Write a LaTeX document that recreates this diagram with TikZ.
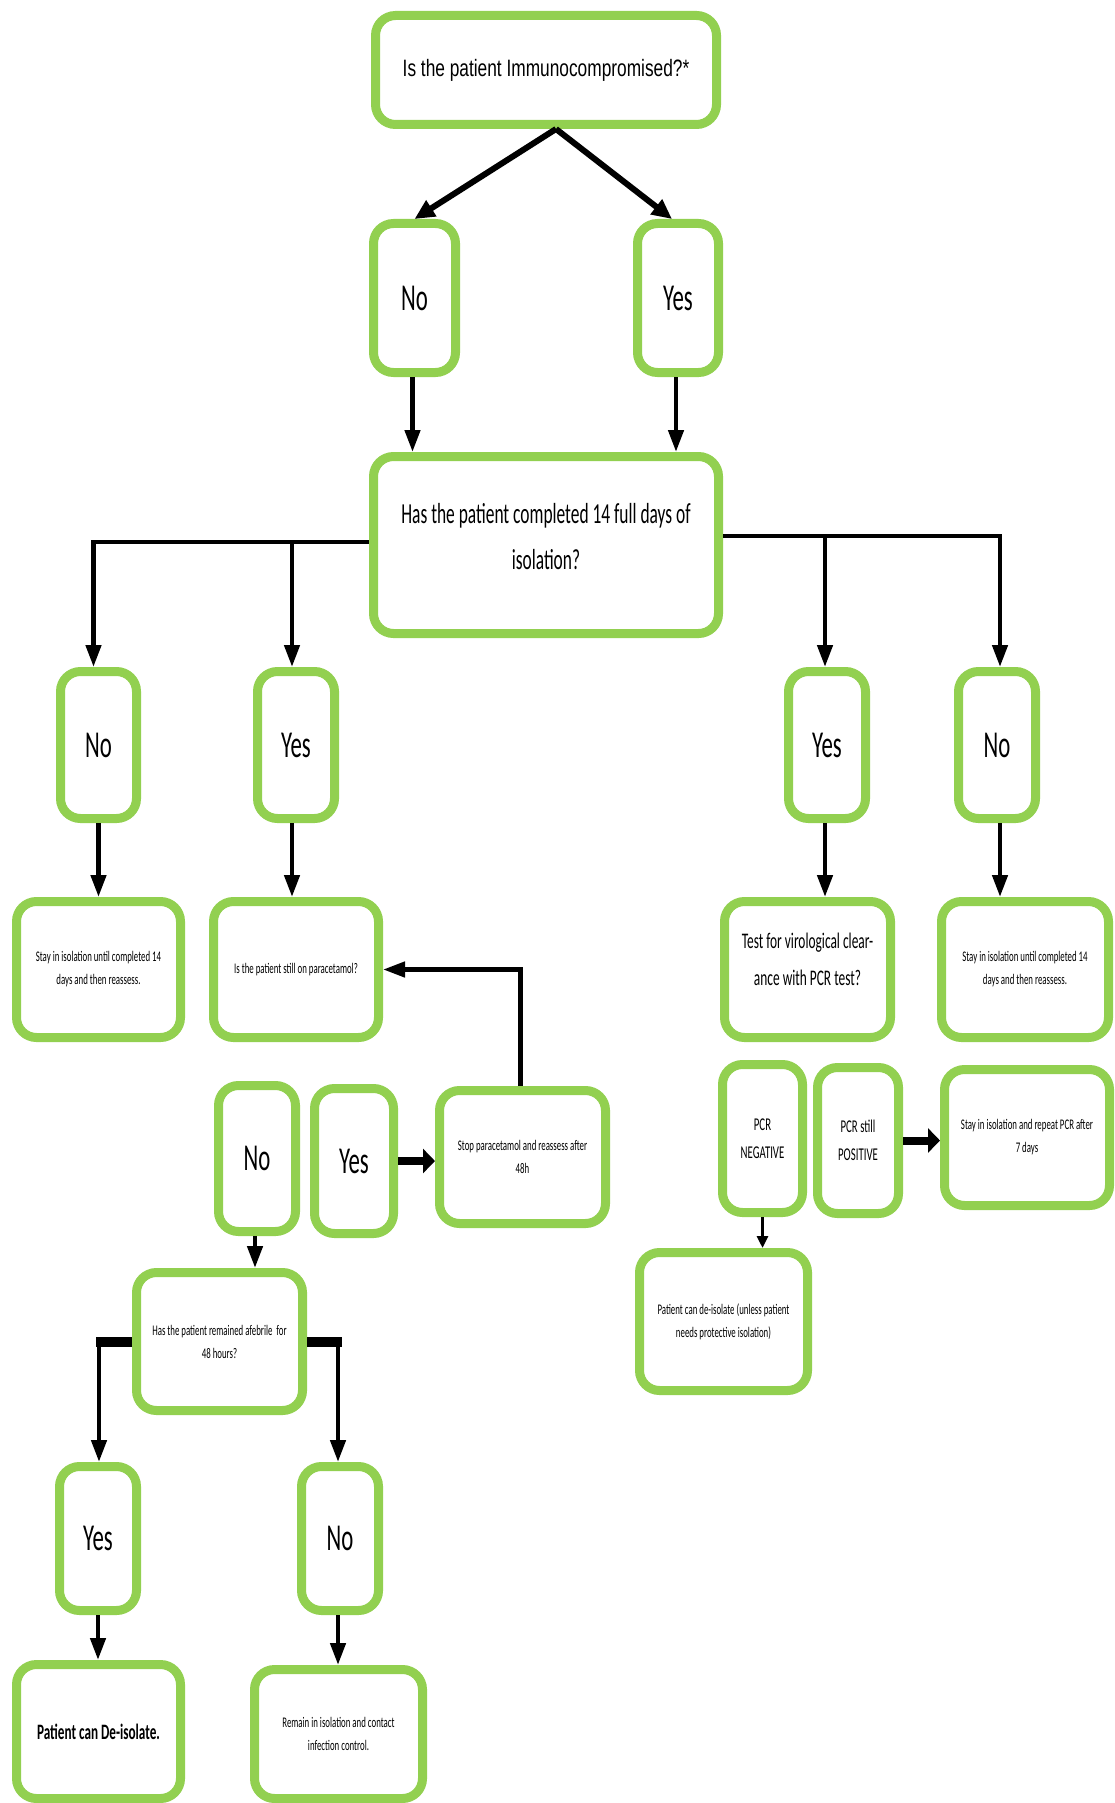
\documentclass[tikz,border=0pt]{standalone}
\usepackage{fontspec}
\usetikzlibrary{arrows.meta}
\newfontfamily\calf[FakeStretch=0.6]{Carlito}
\newfontfamily\arif[FakeStretch=0.73]{Liberation Sans}
\definecolor{boxgreen}{RGB}{146,208,80}
\tikzset{
  box/.style={draw=boxgreen, line width=9pt, rounded corners=20pt, fill=white,
    align=center, inner sep=0pt, outer sep=4.5pt, text=black},
  yn/.style={box, font=\calf\fontsize{38}{40}\selectfont},
  smalltxt/.style={box, font=\calf\fontsize{14.7}{23}\selectfont},
  arr/.style={line width=4.5pt, -{Triangle[length=22pt,width=15pt]}},
  diagarr/.style={line width=6pt, -{Triangle[length=20pt,width=18pt]}},
  thickarr/.style={line width=8pt, -{Triangle[length=12pt,width=24pt]}},
  tinyarr/.style={line width=3pt, -{Triangle[length=12pt,width=11pt]}},
  thickseg/.style={line width=10pt}
}
\begin{document}
\begin{tikzpicture}[x=1pt,y=-1pt]
\useasboundingbox[fill=white] (0,0) rectangle (1115,1803);

% nodes
\node[box, font=\arif\fontsize{23.7}{28}\selectfont, minimum width=341pt, minimum height=109pt] (top) at (546,70) {Is the patient Immunocompromised?*};
\node[yn, minimum width=82pt, minimum height=149pt] (no1) at (414.5,298) {No};
\node[yn, minimum width=81pt, minimum height=149pt] (yes1) at (678,298) {Yes};
\node[box, font=\calf\fontsize{29}{46}\selectfont, minimum width=345pt, minimum height=177pt] (big) at (546,545) {Has the patient completed 14 full days of\\isolation?\\[-28pt]};

\node[yn, minimum width=76pt, minimum height=147pt] (no2) at (98.5,745) {No};
\node[yn, minimum width=77pt, minimum height=147pt] (yes2) at (296,745) {Yes};
\node[yn, minimum width=77pt, minimum height=147pt] (yes3) at (827,745) {Yes};
\node[yn, minimum width=77pt, minimum height=147pt] (no3) at (997,745) {No};

\node[smalltxt, minimum width=164pt, minimum height=136pt] (stay1) at (98.5,969.5) {Stay in isolation until completed 14\\days and then reassess.};
\node[smalltxt, minimum width=165pt, minimum height=136pt] (para) at (296,969.5) {Is the patient still on paracetamol?};
\node[box, font=\calf\fontsize{22.3}{37}\selectfont, minimum width=166pt, minimum height=136pt] (test) at (807.5,969.5) {Test for virological clear-\\ance with PCR test?\\[-16pt]};
\node[smalltxt, minimum width=167pt, minimum height=136pt] (stay2) at (1025,969.5) {Stay in isolation until completed 14\\days and then reassess.};

\node[yn, minimum width=77pt, minimum height=146pt] (no4) at (257,1158.5) {No};
\node[yn, minimum width=79pt, minimum height=145pt] (yes4) at (354,1161) {Yes};
\node[smalltxt, minimum width=166pt, minimum height=133pt] (stop) at (522.5,1157) {Stop paracetamol and reassess after\\48h};

\node[box, font=\calf\fontsize{18}{28}\selectfont, minimum width=80pt, minimum height=148pt] (pcrneg) at (762.5,1138.5) {PCR\\NEGATIVE};
\node[box, font=\calf\fontsize{18}{28}\selectfont, minimum width=81pt, minimum height=146pt] (pcrpos) at (858,1140.5) {PCR still\\POSITIVE};
\node[smalltxt, minimum width=165pt, minimum height=136pt] (stay3) at (1027,1137.5) {Stay in isolation and repeat PCR after\\7 days};

\node[smalltxt, minimum width=168pt, minimum height=138pt] (deiso) at (723.5,1321.5) {Patient can de-isolate (unless patient\\needs protective isolation)};
\node[smalltxt, minimum width=166pt, minimum height=138pt] (afeb) at (219.5,1341.5) {Has the patient remained afebrile~ for\\48 hours?};

\node[yn, minimum width=77pt, minimum height=144pt] (yesb) at (98,1538.5) {Yes};
\node[yn, minimum width=77pt, minimum height=144pt] (nob) at (340,1538.5) {No};

\node[box, font=\calf\bfseries\fontsize{22}{28}\selectfont, minimum width=164pt, minimum height=134pt] (final1) at (98.5,1731.5) {Patient can De-isolate.};
\node[smalltxt, minimum width=168pt, minimum height=129pt] (final2) at (338.5,1734) {Remain in isolation and contact\\infection control.};

% connectors
\draw[diagarr] ([xshift=10pt]top.south) -- (no1.north);
\draw[diagarr] ([xshift=10pt]top.south) -- ([xshift=-6pt]yes1.north);
\draw[arr] ([xshift=-2pt]no1.south) -- ([xshift=-2pt]no1.south |- big.north);
\draw[arr] ([xshift=-2pt]yes1.south) -- ([xshift=-2pt]yes1.south |- big.north);

\draw[arr, line join=miter] (big.west |- 0,542) -| ([xshift=-5pt]no2.north);
\draw[arr] ([xshift=-4pt]yes2.north |- 0,542) -- ([xshift=-4pt]yes2.north);
\draw[arr, line join=miter] (big.east |- 0,536) -| ([xshift=3pt]no3.north);
\draw[arr] ([xshift=-2pt]yes3.north |- 0,536) -- ([xshift=-2pt]yes3.north);

\draw[arr] (no2.south) -- (no2.south |- stay1.north);
\draw[arr] ([xshift=-4pt]yes2.south) -- ([xshift=-4pt]yes2.south |- para.north);
\draw[arr] ([xshift=-2pt]yes3.south) -- ([xshift=-2pt]yes3.south |- test.north);
\draw[arr] ([xshift=3pt]no3.south) -- ([xshift=3pt]no3.south |- stay2.north);

\draw[arr, line join=miter] ([xshift=-2pt]stop.north) |- (para.east);
\draw[thickarr] (yes4.east) -- (yes4.east -| stop.west);
\draw[thickarr] (pcrpos.east) -- (pcrpos.east -| stay3.west);
\draw[tinyarr] (pcrneg.south) -- (pcrneg.south |- deiso.north);
\draw[arr] ([xshift=-2pt]no4.south) -- ([xshift=-2pt]no4.south |- afeb.north);

\draw[thickseg] (afeb.west) -- ([xshift=-2pt]afeb.west -| yesb.north);
\draw[arr] ([xshift=1pt]afeb.west -| yesb.north) -- ([xshift=1pt]yesb.north);
\draw[thickseg] (afeb.east) -- ([xshift=2pt]afeb.east -| nob.north);
\draw[arr] ([xshift=-2pt]afeb.east -| nob.north) -- ([xshift=-2pt]nob.north);

\draw[arr] (yesb.south) -- (yesb.south |- final1.north);
\draw[arr] ([xshift=-2pt]nob.south) -- ([xshift=-2pt]nob.south |- final2.north);
\end{tikzpicture}
\end{document}
